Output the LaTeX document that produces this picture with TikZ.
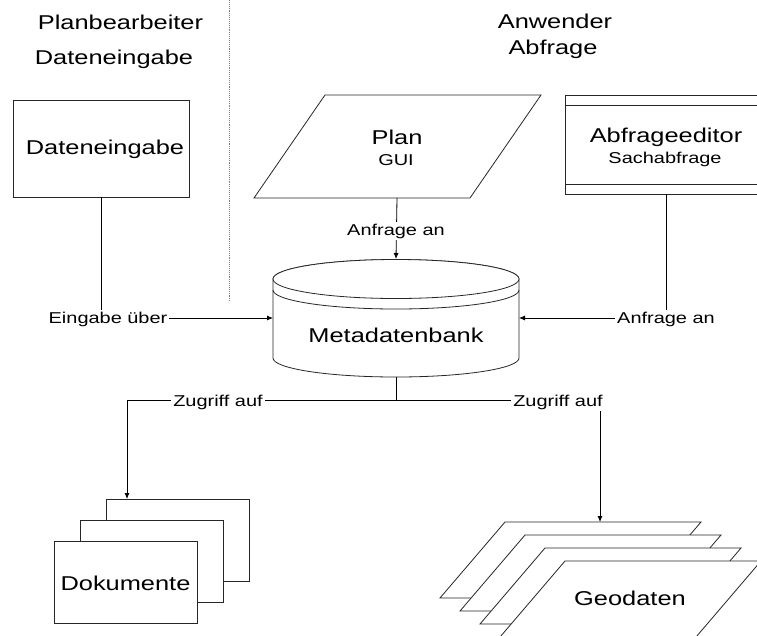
\documentclass[tikz,border=0pt]{standalone}
\usepackage{fontspec}
\newfontfamily\af{Liberation Sans}[FakeStretch=1.27]
\usetikzlibrary{arrows.meta}
\begin{document}
\begin{tikzpicture}[x=1pt,y=-1pt,
  shp/.style={draw=black!85, line width=0.8pt, fill=white},
  boxst/.style={shp, rectangle, inner sep=0pt, outer sep=0pt},
  ghost/.style={rectangle, inner sep=0pt, outer sep=0pt},
  con/.style={draw=black, line width=0.8pt},
  arr/.style={con, -{Latex[length=6pt,width=5pt]}},
  big/.style={font=\af\fontsize{20}{24}\selectfont, inner sep=0pt, anchor=base},
  small/.style={font=\af\fontsize{15.7}{19}\selectfont, inner sep=0pt, anchor=base},
  lab/.style={font=\af\fontsize{15.7}{19}\selectfont, fill=white, inner xsep=2pt, inner ysep=1.5pt, anchor=base}
]
\useasboundingbox (0,0) rectangle (757,635);
\clip (0,0) rectangle (757,635);

% titles and separator
\node[big] (t1) at (120.5,29) {Planbearbeiter};
\node[big] (t2) at (114,64) {Dateneingabe};
\node[big] (t3) at (555,28) {Anwender};
\node[big] (t4) at (553,54) {Abfrage};
\coordinate (s1) at (229,0);
\coordinate (s2) at (229,302);
\draw[gray, densely dotted, line width=0.9pt] (s1) -- (s2);

% Dateneingabe box
\node[boxst, minimum width=176pt, minimum height=97pt] (dein) at (101,148.5) {};
\node[big] (deintxt) at (105,154) {Dateneingabe};

% Plan parallelogram
\draw[shp] (325,95) -- (541,95) -- (470,198) -- (254,198) -- cycle;
\node[ghost, minimum width=10pt, minimum height=103pt] (plan) at (397,146.5) {};
\node[big] (plantxt) at (397,144) {Plan};
\node[small] (guitxt) at (396,165) {GUI};

% Abfrageeditor box
\node[boxst, minimum width=202pt, minimum height=99pt] (abf) at (666,144.5) {};
\draw[shp] ([yshift=-10pt]abf.north west) -- ([yshift=-10pt]abf.north east);
\draw[shp] ([yshift=10pt]abf.south west) -- ([yshift=10pt]abf.south east);
\node[big] (abftxt) at (666,142) {Abfrageeditor};
\node[small] (sachtxt) at (665,163) {Sachabfrage};

% Metadatenbank cylinder
\node[ghost, minimum width=246pt, minimum height=118pt] (cyl) at (396,318) {};
\draw[shp] (273,279) -- (273,358) arc[start angle=180, end angle=360, x radius=123pt, y radius=19pt]
  -- (519,279) arc[start angle=0, end angle=180, x radius=123pt, y radius=19.5pt] -- cycle;
\draw[shp] (396,279) ellipse[x radius=123pt, y radius=19.5pt];
\draw[shp, fill=none] (273,290) arc[start angle=180, end angle=360, x radius=123pt, y radius=19pt];
\node[big] (cyltxt) at (396,342) {Metadatenbank};

% Dokumente stack
\node[boxst, minimum width=143pt, minimum height=82pt] (dokB) at (177.5,540) {};
\node[boxst, minimum width=143pt, minimum height=82pt] (dokM) at (151.5,561) {};
\node[boxst, minimum width=143pt, minimum height=82pt] (dokF) at (125.5,582) {};
\node[big] (doktxt) at (125.5,590) {Dokumente};

% Geodaten stack
\foreach \x/\y in {505/522, 525/535, 545/548}{
  \draw[shp] (\x,\y) -- ++(196,0) -- ++(-65,76) -- ++(-196,0) -- cycle;
}
\draw[shp] (565,561) -- ++(196,0) -- ++(-85.5,100) -- ++(-196,0) -- cycle;
\node[big] (geotxt) at (630,605) {Geodaten};

% connectors
\coordinate (jn) at (396,400);
\coordinate (dokIn) at (127,499);
\coordinate (geoIn) at (600,522);
\draw[arr] (dein.south) |- (cyl.west);
\draw[arr] (plan.south) -- (cyl.north);
\draw[arr] (abf.south) |- (cyl.east);
\draw[con] (cyl.south) -- (jn);
\draw[arr] (jn) -| (dokIn);
\draw[arr] (jn) -| (geoIn);

% connector labels
\node[lab] (l1) at (108,323) {Eingabe über};
\node[lab] (l2) at (396,235) {Anfrage an};
\node[lab] (l3) at (666,323) {Anfrage an};
\node[lab] (l4) at (218,406) {Zugriff auf};
\node[lab] (l5) at (558,406) {Zugriff auf};
\end{tikzpicture}
\end{document}
